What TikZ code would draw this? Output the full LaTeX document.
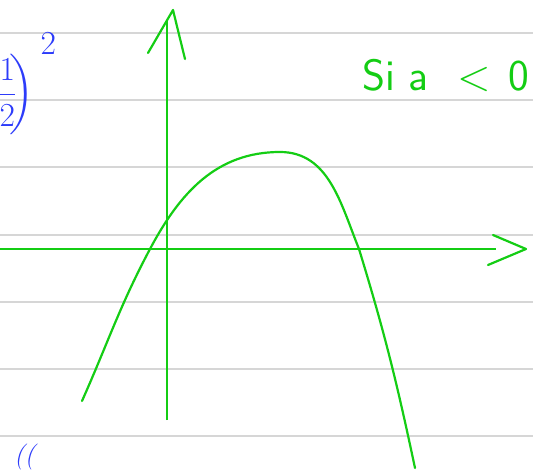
\documentclass[tikz,border=0pt]{standalone}
\usepackage{amsmath}
\usepackage{fontspec}
\usetikzlibrary{calc, positioning}
\definecolor{penGreen}{RGB}{20, 205, 20}
\definecolor{penBlue}{RGB}{45, 60, 250}
\definecolor{ruleGray}{RGB}{214, 214, 214}

\begin{document}
\begin{tikzpicture}[
    x=1pt, y=-1pt,
    rule/.style={draw=ruleGray, line width=1.6pt},
    axis/.style={draw=penGreen, line width=2.6pt},
    tipline/.style={draw=penGreen, line width=2.2pt, line join=round, line cap=round},
    graph/.style={draw=penGreen, line width=2.2pt, line cap=round},
    pen/.style={text=penBlue, inner sep=0pt},
    note/.style={text=penGreen, inner sep=0pt, font=\fontsize{44}{48}\selectfont\sffamily}
]
    \useasboundingbox (0,0) rectangle (533,473);
    % ruled paper
    \foreach \y in {33,100,167,235,302,369,436}
        \draw[rule] (0,\y) -- (533,\y);
    % axes
    \coordinate (xstart) at (0,249);
    \coordinate (xend) at (496,249);
    \coordinate (xtip) at (526,249);
    \coordinate (ystart) at (167,420);
    \coordinate (yend) at (167,20);
    \coordinate (ytip) at (173,10);
    \draw[axis] (xstart) -- (xend);
    \draw[axis] (ystart) -- (yend);
    \draw[tipline] ($(xtip)+(-33,-14)$) -- (xtip) -- ($(xtip)+(-38,16)$);
    \draw[tipline] ($(ytip)+(-25,43)$) -- (ytip) -- ($(ytip)+(12,49)$);
    % parabola
    \coordinate (pa) at (82,401);
    \coordinate (pb) at (150,249);
    \coordinate (pc) at (280,152);
    \coordinate (pd) at (359,249);
    \coordinate (pe) at (415,468);
    \draw[graph] (pa) to[out=66, in=-118] (pb) to[out=62, in=180] (pc)
        to[out=0, in=112] (pd) to[out=-73, in=102] (pe);
    % texts
    \node[note, anchor=base west] (cond) at (362,91) {Si a\hspace{0.65em}<\hspace{0.4em}0};
    \node[pen, anchor=east, scale=1.35, font=\fontsize{24.88}{30}\selectfont] (frac) at (57,84)
        {$\biggl(\dfrac{1}{2}\mkern-4mu\biggr)^{\hspace{5pt}\raisebox{8pt}{$\textstyle 2$}}$};
    \node[pen, anchor=north west, font=\fontsize{26}{30}\selectfont\itshape] (marks) at (14,444) {((};
\end{tikzpicture}
\end{document}
